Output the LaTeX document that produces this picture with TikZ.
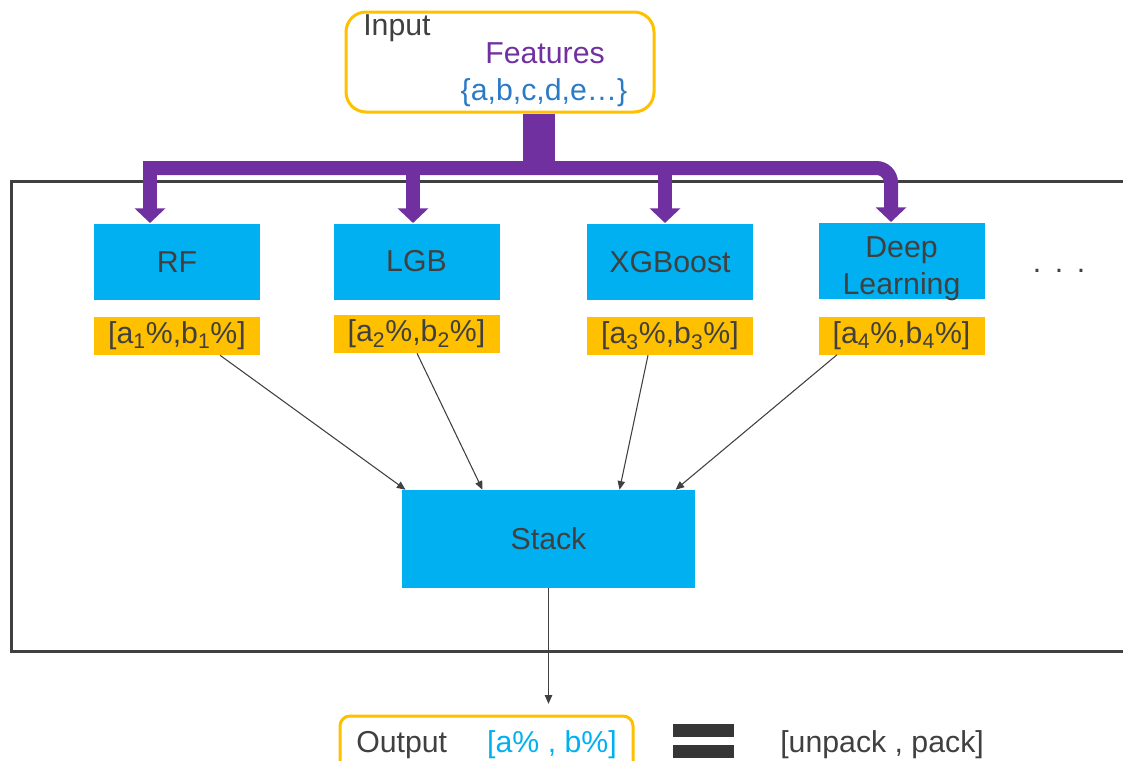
\documentclass[tikz,border=0pt]{standalone}
\usepackage{fontspec}
\setmainfont{Liberation Sans}
\usetikzlibrary{arrows.meta,calc}
\definecolor{boxblue}{HTML}{00B0F0}
\definecolor{boxorange}{HTML}{FFC000}
\definecolor{buspurple}{HTML}{7030A0}
\definecolor{textgray}{HTML}{404040}
\definecolor{setblue}{HTML}{2A7BC6}
\definecolor{framegray}{HTML}{404040}
\begin{document}
\begin{tikzpicture}[x=0.75pt,y=-0.75pt,
  font=\fontsize{22.7}{28}\selectfont,
  model/.style={fill=boxblue, draw=none, minimum width=124.5pt, minimum height=57pt, inner sep=0pt, text=textgray, align=center},
  lab/.style={fill=boxorange, draw=none, minimum width=124.5pt, minimum height=28.5pt, inner sep=0pt, text=textgray},
  bus/.style={draw=buspurple, line width=10.5pt, -{Triangle[width=22.5pt,length=11pt]}},
  trunk/.style={draw=buspurple, line width=24pt},
  thinarrow/.style={draw=textgray, line width=0.8pt, -{Triangle[width=5.5pt,length=6.5pt]}},
  plain/.style={text=textgray, inner sep=0pt}
]
\useasboundingbox (0,0) rectangle (1123,760);
\clip (0,0) rectangle (1123,760);

% outer frame
\draw[draw=framegray, line width=2.25pt] (1130,181) -- (11,181) -- (11,651) -- (1130,651);

% input
\node[draw=boxorange, line width=2.25pt, rounded corners=15pt, minimum width=231pt, minimum height=75pt, inner sep=0pt] (input) at (500,62) {};
\node[plain, anchor=base west] (inlab) at (363,35) {Input};
\node[text=buspurple, inner sep=0pt, anchor=base] (feat) at (545,63) {Features};
\node[text=setblue, inner sep=0pt, anchor=base] (set) at (544,100) {\{a,b,c,d,e…\}};

% models
\node[model] (rf) at (177,262) {RF};
\node[model] (lgb) at (416.5,261.5) {LGB};
\node[model] (xgb) at (670,262) {XGBoost};
\node[model] (dl) at (901.5,261) {};
\node[plain, anchor=base] (dl1) at (901.5,257) {Deep};
\node[plain, anchor=base] (dl2) at (901.5,294) {Learning};

\node[lab] (l1) at (177,336) {[a\textsubscript{1}\%,b\textsubscript{1}\%]};
\node[lab] (l2) at (416.5,334) {[a\textsubscript{2}\%,b\textsubscript{2}\%]};
\node[lab] (l3) at (670,336) {[a\textsubscript{3}\%,b\textsubscript{3}\%]};
\node[lab] (l4) at (901.5,335.5) {[a\textsubscript{4}\%,b\textsubscript{4}\%]};

\node[plain, anchor=base] (dots) at (1059,272) {.\hspace{10.2pt}.\hspace{10.2pt}.};

% stack
\node[fill=boxblue, minimum width=219.75pt, minimum height=73.5pt, inner sep=0pt, text=textgray] (stack) at (548.5,539) {Stack};

% bus
\coordinate (tr) at (539,168);
\coordinate (bl) at (143,168);
\coordinate (a1) at (150,223);
\coordinate (a2) at (413,223);
\coordinate (a3) at (665,223);
\coordinate (a4) at (891,222);
\draw[trunk] (input.south -| tr) -- (tr);
\draw[bus, rounded corners=11pt] (bl) -| (a4);
\draw[bus] ($(a1|-bl)+(0,-7)$) -- (a1);
\draw[bus] (a2|-bl) -- (a2);
\draw[bus] (a3|-bl) -- (a3);

% thin arrows
\draw[thinarrow] ($(l1.south)+(43,0)$) -- ($(stack.north)+(-143,0)$);
\draw[thinarrow] ($(l2.south)+(0.5,0)$) -- ($(stack.north)+(-66,0)$);
\draw[thinarrow] ($(l3.south)+(-22,0)$) -- ($(stack.north)+(71,0)$);
\draw[thinarrow] ($(l4.south)+(-64.5,0)$) -- ($(stack.north)+(127,0)$);

% output
\node[draw=boxorange, line width=2.25pt, rounded corners=7.5pt, minimum width=219.75pt, minimum height=45pt, inner sep=0pt] (out) at (486.5,746) {};
\draw[thinarrow, shorten >=8pt] (stack.south) -- (stack.south |- out.north);
\node[plain, anchor=base west] (outlab) at (356,752) {Output};
\node[text=boxblue, inner sep=0pt, anchor=base] (outval) at (552,752) {[a\% , b\%]};

% equals
\fill[fill=textgray!85!black] (673,724) rectangle (734,737);
\fill[fill=textgray!85!black] (673,745) rectangle (734,758);
\node[plain, anchor=base west] (pack) at (780,752) {[unpack , pack]};
\end{tikzpicture}
\end{document}
